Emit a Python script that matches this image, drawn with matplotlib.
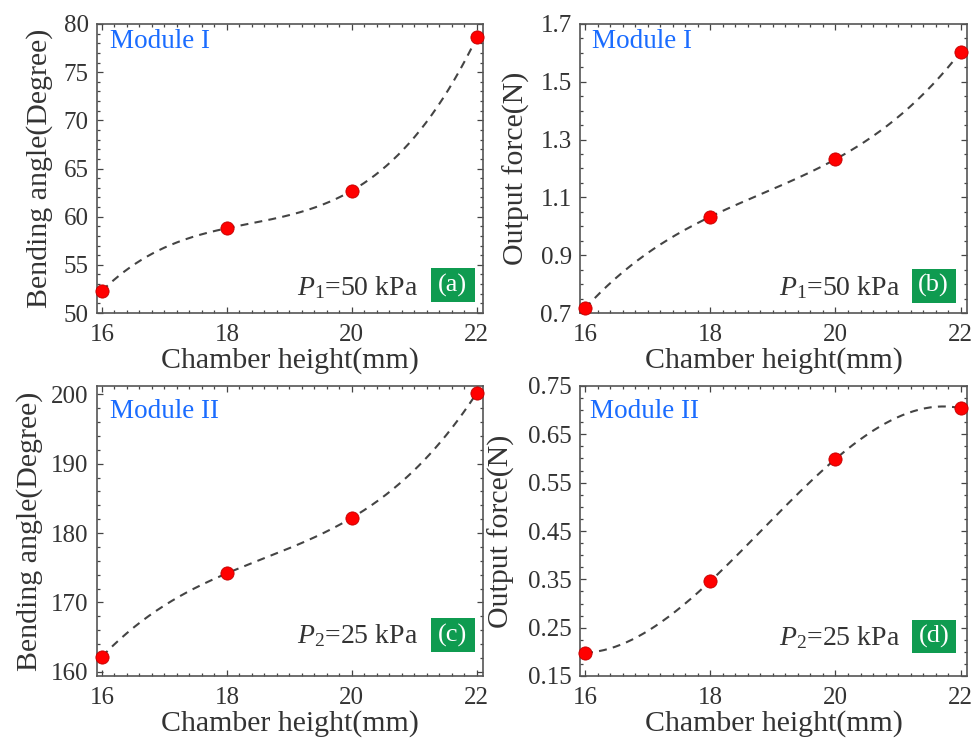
import numpy as np
import matplotlib
matplotlib.use("Agg")
import matplotlib.pyplot as plt
from matplotlib.ticker import MultipleLocator
from matplotlib.patches import Rectangle

plt.rcParams['font.family'] = ['Liberation Serif', 'DejaVu Serif']
plt.rcParams['mathtext.fontset'] = 'custom'
plt.rcParams['mathtext.rm'] = 'Liberation Serif'
plt.rcParams['mathtext.it'] = 'Liberation Serif:italic'

# ---- data ----
chamber_height = [16, 18, 20, 22]
angle_module1 = [52.3, 58.8, 62.7, 78.6]
force_module1 = [0.716, 1.033, 1.232, 1.604]
angle_module2 = [162.2, 174.2, 182.2, 200.2]
force_module2 = [0.198, 0.346, 0.599, 0.704]

xticks = [16, 18, 20, 22]
ylabels = ["Bending angle(Degree)", "Output force(N)", "Bending angle(Degree)", "Output force(N)"]
xlabel = "Chamber height(mm)"
modules = ["Module I", "Module I", "Module II", "Module II"]
pressures = [r"$\mathit{P}_{1}$=50 kPa", r"$\mathit{P}_{1}$=50 kPa",
             r"$\mathit{P}_{2}$=25 kPa", r"$\mathit{P}_{2}$=25 kPa"]
panel_tags = ["(a)", "(b)", "(c)", "(d)"]

series = [angle_module1, force_module1, angle_module2, force_module2]
ylims = [(50, 80), (0.7, 1.7), (159.4, 201.2), (0.15, 0.75)]
yticks = [[50, 55, 60, 65, 70, 75, 80],
          [0.7, 0.9, 1.1, 1.3, 1.5, 1.7],
          [160, 170, 180, 190, 200],
          [0.15, 0.25, 0.35, 0.45, 0.55, 0.65, 0.75]]
yfmt = ["{:.0f}", "{:.1f}", "{:.0f}", "{:.2f}"]
yminor = [1, 0.05, 2, 0.025]

# ---- layout (pixel-based) ----
W, H = 975, 740
fig = plt.figure(figsize=(W / 100, H / 100), dpi=100)
boxes_px = [(97, 24, 483, 313), (580, 24, 967, 313),
            (97, 386, 483, 676), (580, 386, 967, 676)]
ylabel_x = [-0.114, -0.129, -0.140, -0.168]
module_pos = [(0.034, 0.917), (0.031, 0.917), (0.034, 0.89), (0.026, 0.89)]
press_pos = [(0.832, 0.062), (0.827, 0.062), (0.832, 0.114), (0.827, 0.107)]
tag_box = [(0.865, 0.038, 0.114, 0.118), (0.857, 0.035, 0.114, 0.118),
           (0.865, 0.083, 0.114, 0.117), (0.858, 0.079, 0.114, 0.114)]

text_col = '#333333'
for i in range(4):
    l, t, r, b = boxes_px[i]
    ax = fig.add_axes([l / W, 1 - b / H, (r - l) / W, (b - t) / H])
    x = np.array(chamber_height, dtype=float)
    y = np.array(series[i], dtype=float)
    coef = np.polyfit(x, y, 3)
    xs = np.linspace(x.min(), x.max(), 200)
    ax.plot(xs, np.polyval(coef, xs), linestyle=(0, (3.8, 3)), color='#444444', lw=1.5, zorder=2)
    ax.plot(x, y, 'o', ms=9.5, mfc='#ff0000', mec='#c00000', mew=0.6, zorder=3, clip_on=False)

    ax.set_xlim(15.92, 22.1)
    ax.set_ylim(*ylims[i])
    ax.set_xticks(xticks)
    ax.set_xticklabels([str(v) for v in xticks])
    ax.set_yticks(yticks[i])
    ax.set_yticklabels([yfmt[i].format(v) for v in yticks[i]])
    ax.xaxis.set_minor_locator(MultipleLocator(0.2))
    ax.yaxis.set_minor_locator(MultipleLocator(yminor[i]))
    ax.tick_params(which='both', direction='in', top=True, right=True,
                   colors='#444444', labelcolor=text_col, labelsize=18, width=0.9)
    ax.tick_params(which='major', length=4.5)
    ax.tick_params(axis='x', which='major', pad=8)
    ax.tick_params(axis='y', which='major', pad=6)
    ax.tick_params(which='minor', length=2.5)
    for sp in ax.spines.values():
        sp.set_color('#555555')
        sp.set_linewidth(1.2)

    ax.set_xlabel(xlabel, fontsize=21.5, color=text_col, labelpad=1)
    ax.set_ylabel(ylabels[i], fontsize=21.5, color=text_col)
    ax.yaxis.set_label_coords(ylabel_x[i], 0.5)

    ax.text(module_pos[i][0], module_pos[i][1], modules[i], transform=ax.transAxes,
            fontsize=19.5, color='#1a6cff', ha='left', va='baseline')
    ax.text(press_pos[i][0], press_pos[i][1], pressures[i], transform=ax.transAxes,
            fontsize=20, color=text_col, ha='right', va='baseline')
    bx, by, bw, bh = tag_box[i]
    ax.add_patch(Rectangle((bx, by), bw, bh, transform=ax.transAxes,
                           facecolor='#0f9b50', edgecolor='none', zorder=4))
    ax.text(bx + bw / 2, by + bh / 2, panel_tags[i], transform=ax.transAxes,
            fontsize=19, color='white', ha='center', va='center', zorder=5)

fig.savefig("out.png", dpi=100)
